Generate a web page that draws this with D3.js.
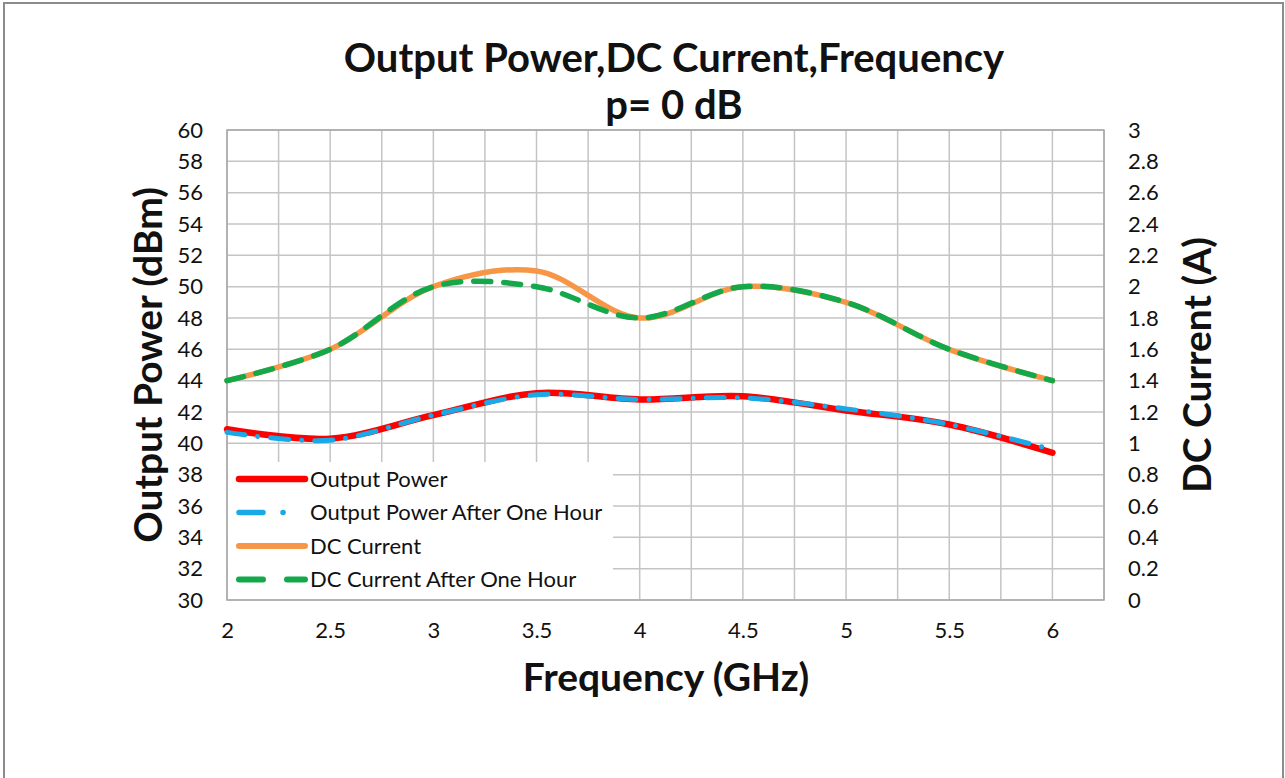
<!DOCTYPE html>
<html>
<head>
<meta charset="utf-8">
<script src="https://cdn.jsdelivr.net/npm/d3@7"></script>
<style>
  body { margin: 0; background: #fff; }
  text { font-family: Lato, "Open Sans", sans-serif; fill: #111; }
</style>
</head>
<body>
<div class="chart"></div>
<script>
// data
var freq = [2, 2.5, 3, 3.5, 4, 4.5, 5, 5.5, 6];
var outputPower = [40.9, 40.3, 41.8, 43.2, 42.8, 43.0, 42.1, 41.2, 39.4];
var outputPowerHour = [40.7, 40.2, 41.8, 43.1, 42.8, 42.9, 42.2, 41.2, 39.6];
var dcCurrent = [1.4, 1.6, 2.0, 2.1, 1.8, 2.0, 1.9, 1.6, 1.4];
var dcCurrentHour = [1.4, 1.6, 2.0, 2.0, 1.8, 2.0, 1.9, 1.6, 1.4];

var xTicks = [2, 2.5, 3, 3.5, 4, 4.5, 5, 5.5, 6];
var xGrid = d3.range(2, 6.26, 0.25);
var leftTicks = d3.range(30, 61, 2);
var rightTicks = d3.range(0, 3.01, 0.2);

var svgWidth = 1285;
var svgHeight = 778;

var margin = { top: 130, right: 181, bottom: 178, left: 227 };
var width = svgWidth - margin.left - margin.right;
var height = svgHeight - margin.top - margin.bottom;

var svg = d3.select(".chart")
    .append("svg")
    .attr("width", svgWidth)
    .attr("height", svgHeight);

// outer chart border
svg.append("rect")
    .attr("x", 4)
    .attr("y", 3)
    .attr("width", 1279)
    .attr("height", 790)
    .attr("fill", "none")
    .attr("stroke", "#8c8c8c")
    .attr("stroke-width", 2);

var chartGroup = svg.append("g")
    .attr("transform", `translate(${margin.left}, ${margin.top})`);

var xScale = d3.scaleLinear().domain([2, 6.25]).range([0, width]);
var yLeft = d3.scaleLinear().domain([30, 60]).range([height, 0]);
var yRight = d3.scaleLinear().domain([0, 3]).range([height, 0]);

// gridlines
chartGroup.selectAll(".vgrid")
    .data(xGrid)
    .enter()
    .append("line")
    .attr("x1", d => xScale(d))
    .attr("x2", d => xScale(d))
    .attr("y1", 0)
    .attr("y2", height)
    .attr("stroke", "#c4c4c4")
    .attr("stroke-width", 1.5);

chartGroup.selectAll(".hgrid")
    .data(leftTicks)
    .enter()
    .append("line")
    .attr("x1", 0)
    .attr("x2", width)
    .attr("y1", d => yLeft(d))
    .attr("y2", d => yLeft(d))
    .attr("stroke", "#c4c4c4")
    .attr("stroke-width", 1.5);

chartGroup.append("rect")
    .attr("width", width)
    .attr("height", height)
    .attr("fill", "none")
    .attr("stroke", "#a8a8a8")
    .attr("stroke-width", 1.5);

// axes (labels only, Excel style)
var bottomAxis = d3.axisBottom(xScale).tickValues(xTicks).tickSize(0).tickPadding(22)
    .tickFormat(d => String(d));
var leftAxis = d3.axisLeft(yLeft).tickValues(leftTicks).tickSize(0).tickPadding(24);
var rightAxis = d3.axisRight(yRight).tickValues(rightTicks).tickSize(0).tickPadding(24)
    .tickFormat(d => String(+d.toFixed(1)));

[chartGroup.append("g").attr("transform", `translate(0, ${height})`).call(bottomAxis),
 chartGroup.append("g").call(leftAxis),
 chartGroup.append("g").attr("transform", `translate(${width}, 0)`).call(rightAxis)]
    .forEach(function (g) {
        g.select(".domain").remove();
        g.selectAll("text")
            .style("font-family", "Lato, 'Open Sans', sans-serif")
            .style("font-size", "22px")
            .attr("fill", "#222");
    });

// lines
var curve = d3.curveCatmullRom.alpha(0.5);

function lineFor(scale, values) {
    return d3.line()
        .x((d, i) => xScale(freq[i]))
        .y(d => scale(d))
        .curve(curve)(values);
}

chartGroup.append("path")
    .attr("d", lineFor(yRight, dcCurrent))
    .attr("fill", "none")
    .attr("stroke", "#f79646")
    .attr("stroke-width", 5.5)
    .attr("stroke-linecap", "round");

chartGroup.append("path")
    .attr("d", lineFor(yRight, dcCurrentHour))
    .attr("fill", "none")
    .attr("stroke", "#13a84a")
    .attr("stroke-width", 5.5)
    .attr("stroke-linecap", "round")
    .attr("stroke-dasharray", "17,13");

chartGroup.append("path")
    .attr("d", lineFor(yLeft, outputPower))
    .attr("fill", "none")
    .attr("stroke", "#ff0000")
    .attr("stroke-width", 6.5)
    .attr("stroke-linecap", "round");

chartGroup.append("path")
    .attr("d", lineFor(yLeft, outputPowerHour))
    .attr("fill", "none")
    .attr("stroke", "#1aa8e6")
    .attr("stroke-width", 5)
    .attr("stroke-linecap", "round")
    .attr("stroke-dasharray", "18,13,0.1,13");

// legend
var legendItems = [
    { name: "Output Power", color: "#ff0000", dash: null, w: 6.5 },
    { name: "Output Power After One Hour", color: "#1aa8e6", dash: "24,20,0.1,40", w: 5.5 },
    { name: "DC Current", color: "#f79646", dash: null, w: 6 },
    { name: "DC Current After One Hour", color: "#13a84a", dash: "24,24,20,20", w: 6 }
];

var legend = chartGroup.append("g")
    .attr("transform", `translate(0, ${height - 138})`);

legend.append("rect")
    .attr("x", 1)
    .attr("y", 0)
    .attr("width", 385)
    .attr("height", 137)
    .attr("fill", "#fff");

var rows = legend.selectAll(".item")
    .data(legendItems)
    .enter()
    .append("g")
    .attr("transform", (d, i) => `translate(0, ${17 + i * 33.5})`);

rows.append("line")
    .attr("x1", 12)
    .attr("x2", 78)
    .attr("stroke", d => d.color)
    .attr("stroke-width", d => d.w)
    .attr("stroke-linecap", "round")
    .attr("stroke-dasharray", d => d.dash);

rows.append("text")
    .attr("x", 83)
    .attr("dy", "0.35em")
    .style("font-size", "22px")
    .attr("fill", "#222")
    .text(d => d.name);

// titles
svg.append("text")
    .attr("x", 674)
    .attr("y", 72)
    .attr("text-anchor", "middle")
    .style("font-size", "40px")
    .style("font-weight", "bold")
    .text("Output Power,DC Current,Frequency");

svg.append("text")
    .attr("x", 674)
    .attr("y", 119)
    .attr("text-anchor", "middle")
    .style("font-size", "40px")
    .style("font-weight", "bold")
    .text("p= 0 dB");

svg.append("text")
    .attr("x", 666)
    .attr("y", 691)
    .attr("text-anchor", "middle")
    .style("font-size", "39px")
    .style("font-weight", "bold")
    .text("Frequency (GHz)");

svg.append("text")
    .attr("transform", "translate(162, 365) rotate(-90)")
    .attr("text-anchor", "middle")
    .style("font-size", "39px")
    .style("font-weight", "bold")
    .text("Output Power (dBm)");

svg.append("text")
    .attr("transform", "translate(1211, 365) rotate(-90)")
    .attr("text-anchor", "middle")
    .style("font-size", "39px")
    .style("font-weight", "bold")
    .text("DC Current (A)");
</script>
</body>
</html>
